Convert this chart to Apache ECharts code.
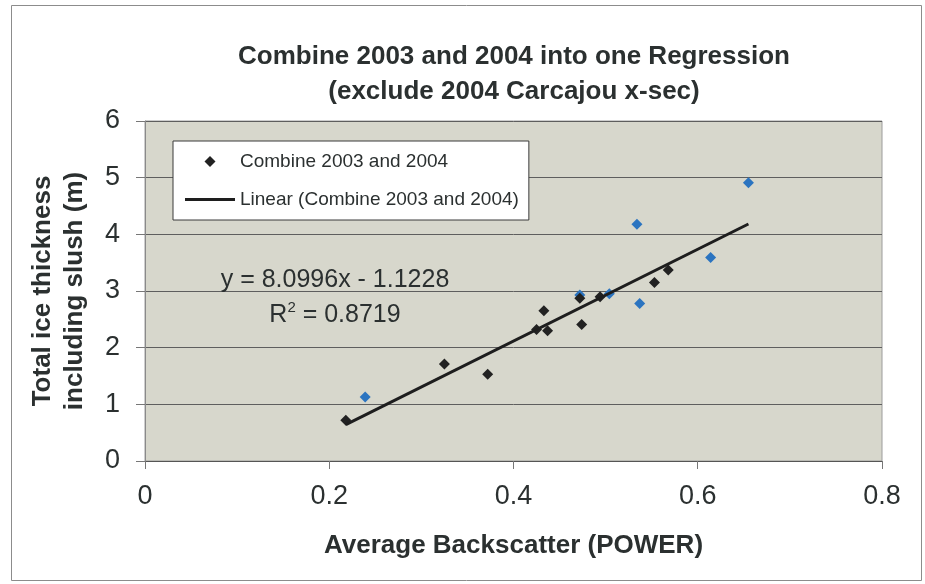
<!DOCTYPE html>
<html>
<head>
<meta charset="utf-8">
<title>Combine 2003 and 2004 into one Regression</title>
<script src="https://cdn.jsdelivr.net/npm/echarts@6/dist/echarts.min.js"></script>
<style>
  html, body { margin: 0; padding: 0; background: #ffffff; }
  #chart { width: 925px; height: 584px; }
</style>
</head>
<body>
<div id="chart"></div>
<script>
// Average backscatter (POWER) vs total ice thickness incl. slush (m)
const xBlack = [0.218, 0.325, 0.372, 0.425, 0.433, 0.437, 0.474, 0.472, 0.494, 0.553, 0.568];
const yBlack = [0.72, 1.71, 1.53, 2.32, 2.65, 2.30, 2.41, 2.87, 2.90, 3.15, 3.37];
const xBlue = [0.239, 0.472, 0.504, 0.534, 0.537, 0.614, 0.655];
const yBlue = [1.13, 2.93, 2.95, 4.18, 2.78, 3.59, 4.91];

// Fitted linear trend
const slope = 8.0996;
const intercept = -1.1228;
const rSquared = 0.8719;

const xTicks = [0, 0.2, 0.4, 0.6, 0.8];
const yTicks = [0, 1, 2, 3, 4, 5, 6];

const seriesName = 'Combine 2003 and 2004';
const trendName = 'Linear (Combine 2003 and 2004)';

const FONT = '"Liberation Sans", Arial, sans-serif';
const INK = '#2b3030';
const MARK_DARK = '#222222';
const MARK_BLUE = '#2b74c0';
const TREND = '#1e1e1e';

const allX = xBlack.concat(xBlue);
const xMin = Math.min.apply(null, allX);
const xMax = Math.max.apply(null, allX);
const trendData = [xMin, xMax].map(x => [x, slope * x + intercept]);

// blue points first so the dark ones sit on top where they overlap
const pointData = []
  .concat(xBlue.map((x, i) => ({ value: [x, yBlue[i]], itemStyle: { color: MARK_BLUE } })))
  .concat(xBlack.map((x, i) => [x, yBlack[i]]));

const eqText = 'y = ' + slope.toFixed(4) + 'x - ' + Math.abs(intercept).toFixed(4);
const r2Text = 'R{sup|2} = ' + rSquared.toFixed(4);

const chart = echarts.init(document.getElementById('chart'), null, { renderer: 'canvas' });
chart.setOption({
  animation: false,
  backgroundColor: '#ffffff',
  textStyle: { fontFamily: FONT, color: INK },
  title: {
    text: 'Combine 2003 and 2004 into one Regression\n(exclude 2004 Carcajou x-sec)',
    left: 514,
    top: 39,
    padding: 0,
    textAlign: 'center',
    textStyle: { fontFamily: FONT, fontSize: 26, fontWeight: 'bold', color: INK, lineHeight: 35 }
  },
  legend: {
    orient: 'vertical',
    left: 173,
    top: 141,
    padding: [11, 10, 11, 12],
    itemGap: 19,
    itemWidth: 50,
    itemHeight: 11,
    symbolKeepAspect: true,
    backgroundColor: '#ffffff',
    borderColor: '#3a3a3a',
    borderWidth: 1,
    borderRadius: 0,
    selectedMode: false,
    textStyle: { fontFamily: FONT, fontSize: 19, color: INK },
    data: [
      { name: seriesName, icon: 'path://M5,0 L10,5 L5,10 L0,5 Z' },
      { name: trendName, icon: 'path://M0,0 L50,0 L50,3 L0,3 Z' }
    ]
  },
  grid: {
    left: 145,
    top: 121,
    width: 737,
    height: 340,
    show: true,
    backgroundColor: '#d7d7cc',
    borderColor: '#9c9c9c',
    borderWidth: 1,
    containLabel: false
  },
  xAxis: {
    type: 'value',
    min: xTicks[0],
    max: xTicks[xTicks.length - 1],
    interval: xTicks[1] - xTicks[0],
    name: 'Average Backscatter (POWER)',
    nameLocation: 'middle',
    nameGap: 72,
    nameTextStyle: { fontFamily: FONT, fontSize: 26, fontWeight: 'bold', color: INK },
    axisLine: { show: true, lineStyle: { color: '#555555', width: 1 } },
    axisTick: { show: true, inside: false, length: 8, lineStyle: { color: '#777777' } },
    axisLabel: { fontFamily: FONT, fontSize: 27, color: INK, margin: 22 },
    splitLine: { show: false }
  },
  yAxis: {
    type: 'value',
    min: yTicks[0],
    max: yTicks[yTicks.length - 1],
    interval: yTicks[1] - yTicks[0],
    name: 'Total ice thickness\nincluding slush (m)',
    nameLocation: 'middle',
    nameRotate: 90,
    nameGap: 54,
    nameTextStyle: { fontFamily: FONT, fontSize: 26, fontWeight: 'bold', color: INK, lineHeight: 32 },
    axisLine: { show: true, lineStyle: { color: '#8a8a8a', width: 1 } },
    axisTick: { show: true, inside: false, length: 9, lineStyle: { color: '#777777' } },
    axisLabel: { fontFamily: FONT, fontSize: 27, color: INK, margin: 25 },
    splitLine: { show: true, lineStyle: { color: '#5e5e5e', width: 1 } }
  },
  series: [
    {
      name: seriesName,
      type: 'scatter',
      symbol: 'diamond',
      symbolSize: 11,
      itemStyle: { color: MARK_DARK, opacity: 1 },
      data: pointData,
      z: 3
    },
    {
      name: trendName,
      type: 'line',
      symbol: 'none',
      itemStyle: { color: TREND },
      lineStyle: { color: TREND, width: 3 },
      data: trendData,
      z: 4
    }
  ],
  graphic: [
    {
      type: 'rect',
      silent: true,
      shape: { x: 11.5, y: 5.5, width: 910, height: 575 },
      style: { fill: 'none', stroke: '#8c8c8c', lineWidth: 1 },
      z: 0
    },
    {
      type: 'text',
      silent: true,
      x: 335,
      y: 280,
      style: {
        text: eqText,
        fontFamily: FONT,
        fontSize: 25,
        fill: INK,
        align: 'center',
        verticalAlign: 'middle'
      },
      z: 10
    },
    {
      type: 'text',
      silent: true,
      x: 335,
      y: 315,
      style: {
        text: r2Text,
        fontFamily: FONT,
        fontSize: 25,
        fill: INK,
        align: 'center',
        verticalAlign: 'middle',
        rich: {
          sup: { fontFamily: FONT, fontSize: 15, fill: INK, verticalAlign: 'top', lineHeight: 29 }
        }
      },
      z: 10
    }
  ]
});
</script>
</body>
</html>
